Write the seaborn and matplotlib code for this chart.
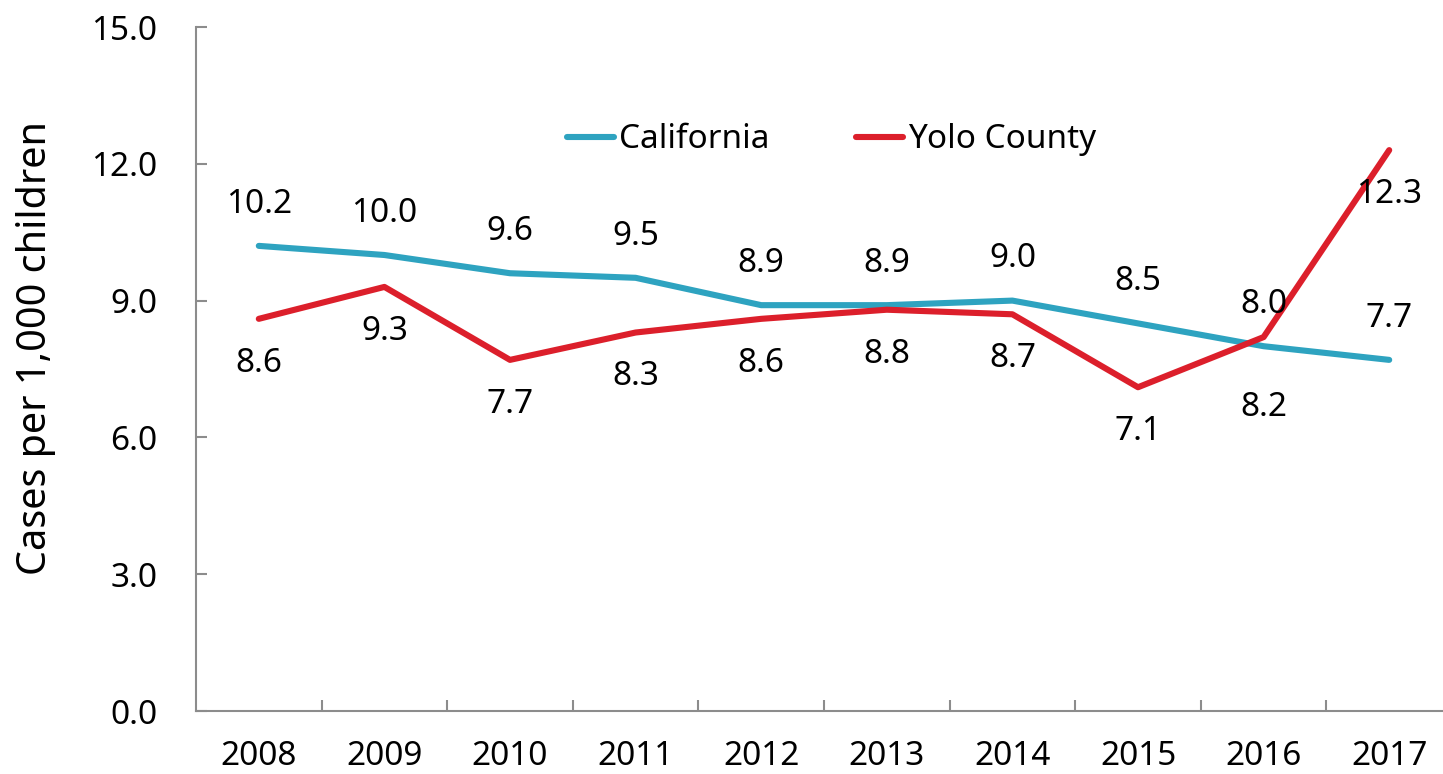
import matplotlib
matplotlib.use("Agg")
import matplotlib.pyplot as plt
import seaborn as sns
import pandas as pd
import numpy as np
from matplotlib.ticker import FixedLocator

years = ["2008", "2009", "2010", "2011", "2012", "2013", "2014", "2015", "2016", "2017"]
california = [10.2, 10.0, 9.6, 9.5, 8.9, 8.9, 9.0, 8.5, 8.0, 7.7]
yolo = [8.6, 9.3, 7.7, 8.3, 8.6, 8.8, 8.7, 7.1, 8.2, 12.3]
series_names = ["California", "Yolo County"]
colors = ["#2EA3C0", "#DC1F2B"]
y_ticks = [0.0, 3.0, 6.0, 9.0, 12.0, 15.0]

sns.set_theme(style="white")
plt.rcParams['font.family'] = ['Noto Sans', 'DejaVu Sans']
plt.rcParams['text.color'] = 'black'
plt.rcParams['axes.labelcolor'] = 'black'
plt.rcParams['xtick.labelcolor'] = 'black'
plt.rcParams['ytick.labelcolor'] = 'black'

df = pd.DataFrame({
    "idx": list(range(len(years))) * 2,
    "value": california + yolo,
    "series": [series_names[0]] * len(years) + [series_names[1]] * len(years),
})

fig = plt.figure(figsize=(14.43, 7.74), dpi=100)
W, H = 1443, 774
left_px, right_px, top_px, bot_px = 196, 1452, 27, 711
ax = fig.add_axes([left_px / W, 1 - bot_px / H, (right_px - left_px) / W, (bot_px - top_px) / H])

sns.lineplot(data=df, x="idx", y="value", hue="series", palette=colors,
             linewidth=4.4, ax=ax, legend=True, solid_capstyle="round")

ax.set_xlim(-0.5, 9.5)
ax.set_ylim(0, 15)

fs = 24
# annotations
for i, v in enumerate(california):
    ax.annotate(f"{v:.1f}", (i, v), xytext=(0, 30), textcoords="offset points",
                ha="center", va="center", fontsize=fs, color="black")
for i, v in enumerate(yolo):
    off = -32
    if years[i] == "2016":
        off = -51
    ax.annotate(f"{v:.1f}", (i, v), xytext=(0, off), textcoords="offset points",
                ha="center", va="center", fontsize=fs, color="black")

ax.set_xticks(range(len(years)))
ax.set_xticklabels(years, fontsize=fs, color="black")
ax.xaxis.set_minor_locator(FixedLocator(np.arange(0.5, 9.0, 1.0)))
ax.tick_params(axis="x", which="major", length=0, pad=21)
ax.tick_params(axis="x", which="minor", length=8, width=1.5, direction="in", color="#8c8c8c", bottom=True)

ax.set_yticks(y_ticks)
ax.set_yticklabels([f"{t:.1f}" for t in y_ticks], fontsize=fs, color="black")
ax.tick_params(axis="y", which="major", length=8, width=1.5, direction="in", color="#8c8c8c", pad=28, left=True)

ax.set_xlabel("")
ax.set_ylabel("Cases per 1,000 children", fontsize=28.5, color="black")
ax.yaxis.set_label_coords((56 - left_px) / (right_px - left_px), (bot_px - 348) / (bot_px - top_px))

for s in ["top", "right"]:
    ax.spines[s].set_visible(False)
for s in ["left", "bottom"]:
    ax.spines[s].set_color("#8c8c8c")
    ax.spines[s].set_linewidth(1.5)

leg = ax.legend(loc="center", bbox_to_anchor=(0.506, 0.835), ncol=2, frameon=False,
                fontsize=fs, handlelength=1.4, handletextpad=0.15, columnspacing=2.6)
for line in leg.get_lines():
    line.set_linewidth(4.4)
for t in leg.get_texts():
    t.set_color("black")

fig.savefig("out.png", dpi=100)
